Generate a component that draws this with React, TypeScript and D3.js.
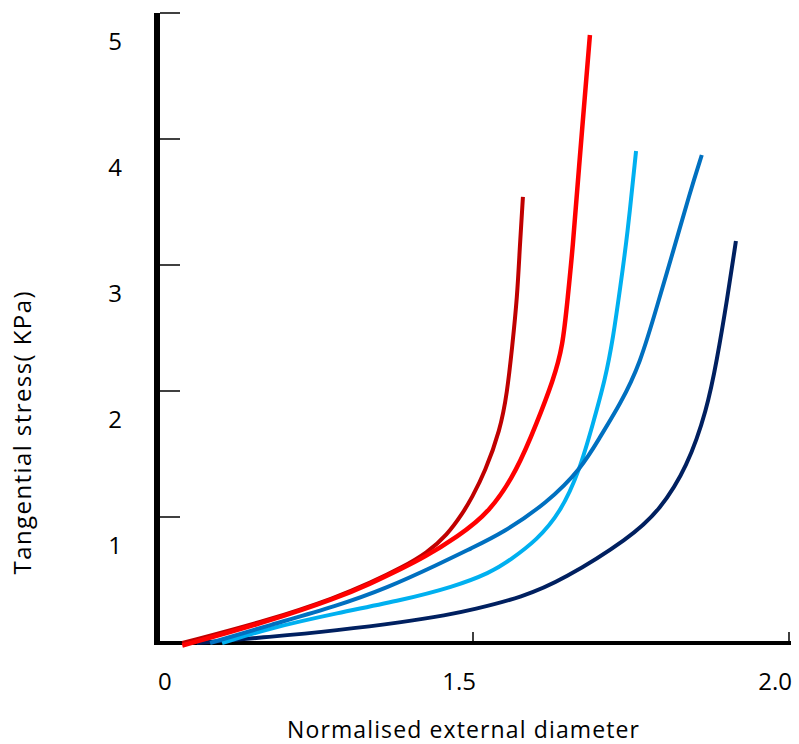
import React from "react";
import * as d3 from "d3";

const xTickValues = [1.5, 2.0];
const xTickLabels = ["1.5", "2.0"];
const yTickValues = [1, 2, 3, 4, 5];
const yTickLabels = ["1", "2", "3", "4", "5"];

const darkRed: [number, number][] = [
  [1.04, 0], [1.179, 0.183], [1.285, 0.365], [1.337, 0.476], [1.389, 0.603],
  [1.427, 0.714], [1.459, 0.857], [1.484, 1.032], [1.498, 1.151], [1.519, 1.357],
  [1.543, 1.69], [1.554, 1.984], [1.562, 2.349], [1.57, 2.746], [1.574, 3.143], [1.579, 3.54],
];
const red: [number, number][] = [
  [1.04, -0.02], [1.179, 0.175], [1.285, 0.357], [1.337, 0.468], [1.389, 0.595],
  [1.421, 0.675], [1.475, 0.841], [1.527, 1.04], [1.57, 1.373], [1.601, 1.746],
  [1.627, 2.087], [1.642, 2.349], [1.65, 2.746], [1.658, 3.143], [1.666, 3.675], [1.685, 4.825],
];
const mediumBlue: [number, number][] = [
  [1.084, 0], [1.179, 0.143], [1.285, 0.294], [1.364, 0.437], [1.443, 0.619],
  [1.498, 0.754], [1.547, 0.873], [1.617, 1.111], [1.672, 1.389], [1.701, 1.635],
  [1.733, 1.897], [1.764, 2.206], [1.794, 2.722], [1.816, 3.095], [1.843, 3.571], [1.862, 3.873],
];
const lightBlue: [number, number][] = [
  [1.103, 0], [1.179, 0.119], [1.285, 0.238], [1.389, 0.341], [1.468, 0.444],
  [1.527, 0.556], [1.559, 0.659], [1.601, 0.817], [1.638, 1.032], [1.669, 1.373],
  [1.69, 1.746], [1.709, 2.087], [1.722, 2.429], [1.733, 2.825], [1.744, 3.222], [1.758, 3.905],
];
const navy: [number, number][] = [
  [1.063, 0], [1.179, 0.048], [1.285, 0.1], [1.389, 0.165], [1.459, 0.222],
  [1.498, 0.262], [1.579, 0.365], [1.642, 0.5], [1.748, 0.833], [1.796, 1.056],
  [1.839, 1.397], [1.87, 1.849], [1.886, 2.246], [1.902, 2.722], [1.916, 3.19],
];

const series = [
  { name: "navy", data: navy, color: "#002060", width: 4 },
  { name: "lightBlue", data: lightBlue, color: "#00B0F0", width: 4 },
  { name: "mediumBlue", data: mediumBlue, color: "#0070C0", width: 4 },
  { name: "darkRed", data: darkRed, color: "#C00000", width: 4 },
  { name: "red", data: red, color: "#FF0000", width: 4.5 },
];

const FONT = "'Open Sans', sans-serif";

export default function App() {
  const x = d3.scaleLinear().domain([1, 2]).range([157, 789]);
  const y = d3.scaleLinear().domain([0, 5]).range([643, 13]);
  const line = d3
    .line<[number, number]>()
    .x((d) => x(d[0]))
    .y((d) => y(d[1]))
    .curve(d3.curveBasis);

  return (
    <svg
      width={799}
      height={744}
      style={{ position: "absolute", left: 0, top: 0, background: "#fff" }}
    >
      {/* x axis */}
      <line x1={154} x2={791} y1={y(0)} y2={y(0)} stroke="#000" strokeWidth={4} />
      {xTickValues.map((v) => (
        <line key={v} x1={x(v)} x2={x(v)} y1={y(0) - 11} y2={y(0)} stroke="#000" strokeWidth={1.5} />
      ))}
      {xTickValues.map((v, i) => (
        <text key={v} x={x(v) + 3} y={690} textAnchor="end" fontFamily={FONT} fontSize={24} fill="#000">
          {xTickLabels[i]}
        </text>
      ))}
      <text x={158} y={690} fontFamily={FONT} fontSize={24} fill="#000">0</text>

      {/* y axis */}
      <line x1={157} x2={157} y1={y(5)} y2={y(0) + 2} stroke="#000" strokeWidth={6} />
      {yTickValues.map((v) => (
        <line key={v} x1={160} x2={180} y1={y(v)} y2={y(v)} stroke="#000" strokeWidth={1.5} />
      ))}
      {yTickValues.map((v, i) => (
        <text key={v} x={115} y={y(v) + 37} textAnchor="middle" fontFamily={FONT} fontSize={24} fill="#000">
          {yTickLabels[i]}
        </text>
      ))}

      {/* titles */}
      <text
        x={463}
        y={738}
        textAnchor="middle"
        fontFamily={FONT}
        fontSize={23}
        textLength={352}
        lengthAdjust="spacing"
        fill="#000"
      >
        Normalised external diameter
      </text>
      <text
        transform="translate(31,433) rotate(-90)"
        textAnchor="middle"
        fontFamily={FONT}
        fontSize={24}
        textLength={283}
        lengthAdjust="spacing"
        fill="#000"
      >
        Tangential stress( KPa)
      </text>

      {/* curves */}
      {series.map((s) => (
        <path
          key={s.name}
          d={line(s.data) || ""}
          fill="none"
          stroke={s.color}
          strokeWidth={s.width}
        />
      ))}
    </svg>
  );
}
